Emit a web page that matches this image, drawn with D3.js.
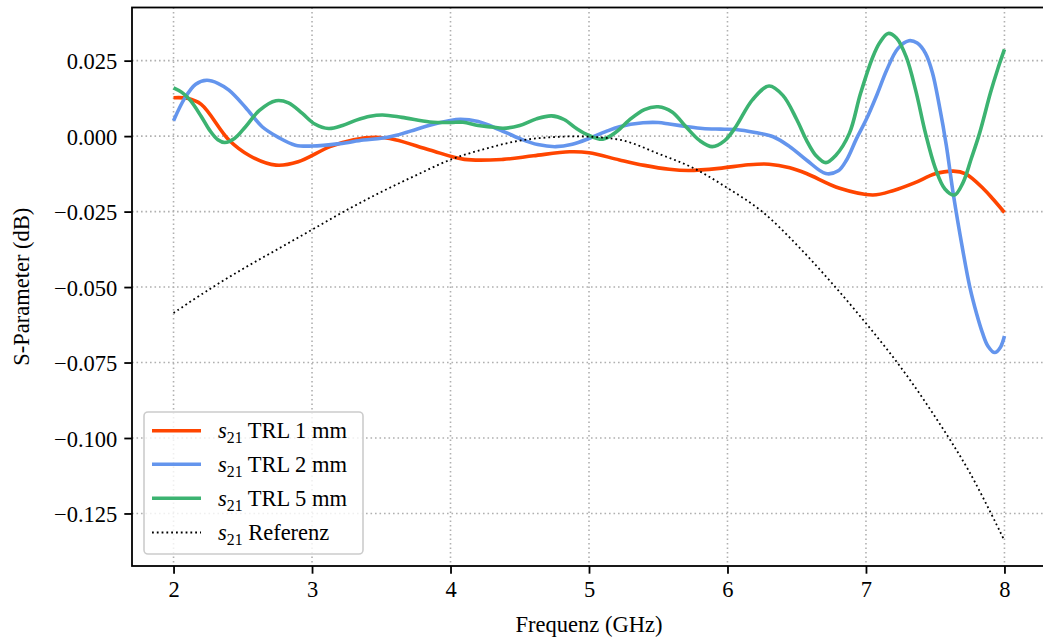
<!DOCTYPE html>
<html>
<head>
<meta charset="utf-8">
<script src="https://cdn.jsdelivr.net/npm/d3@7"></script>
<style>
  html, body { margin: 0; padding: 0; background: #fff; }
  svg { display: block; }
  text { font-family: "Liberation Serif", "Times New Roman", serif; fill: #000; }
</style>
</head>
<body>
<svg id="chart" width="1043" height="639"></svg>
<script>
// s21 TRL 1 mm
const trl1Freq = [2.0, 2.1, 2.2, 2.4, 2.55, 2.74, 2.9, 3.13, 3.3, 3.46, 3.6, 3.85, 4.1, 4.38, 4.6, 4.86, 5.0, 5.22, 5.4, 5.58, 5.72, 5.94, 6.15, 6.3, 6.45, 6.57, 6.81, 7.05, 7.2, 7.35, 7.5, 7.63, 7.72, 7.85, 7.92, 8.0];
const trl1Values = [0.0127, 0.0125, 0.0105, -0.0013, -0.0065, -0.0096, -0.0085, -0.0035, -0.0012, -0.0004, -0.0012, -0.0046, -0.0077, -0.0077, -0.0065, -0.0052, -0.0055, -0.0079, -0.0097, -0.0110, -0.0114, -0.0107, -0.0095, -0.0093, -0.0105, -0.0124, -0.0173, -0.0195, -0.0180, -0.0155, -0.0125, -0.0116, -0.0125, -0.0175, -0.0210, -0.0253];

// s21 TRL 2 mm
const trl2Freq = [2.0, 2.08, 2.16, 2.24, 2.32, 2.4, 2.52, 2.64, 2.76, 2.88, 3.0, 3.2, 3.37, 3.5, 3.61, 3.75, 3.85, 3.98, 4.07, 4.2, 4.35, 4.5, 4.63, 4.76, 4.88, 5.0, 5.12, 5.22, 5.39, 5.5, 5.58, 5.7, 5.82, 5.95, 6.06, 6.2, 6.33, 6.45, 6.57, 6.71, 6.8, 6.86, 6.93, 7.0, 7.08, 7.15, 7.23, 7.31, 7.37, 7.43, 7.48, 7.53, 7.58, 7.63, 7.7, 7.75, 7.8, 7.84, 7.88, 7.93, 7.97, 8.0];
const trl2Values = [0.0051, 0.0125, 0.0172, 0.0185, 0.0175, 0.0152, 0.0095, 0.0031, -0.0005, -0.0030, -0.0033, -0.0025, -0.0013, -0.0007, 0.0003, 0.0022, 0.0036, 0.0050, 0.0056, 0.0048, 0.0022, -0.0008, -0.0028, -0.0035, -0.0027, -0.0008, 0.0015, 0.0031, 0.0044, 0.0045, 0.0040, 0.0032, 0.0025, 0.0023, 0.0022, 0.0012, -0.0002, -0.0035, -0.0079, -0.0124, -0.0115, -0.0079, -0.0010, 0.0053, 0.0138, 0.0219, 0.0290, 0.0316, 0.0308, 0.0274, 0.0210, 0.0100, -0.0030, -0.0190, -0.0380, -0.0500, -0.0590, -0.0650, -0.0695, -0.0717, -0.0700, -0.0662];

// s21 TRL 5 mm
const trl5Freq = [2.0, 2.06, 2.12, 2.2, 2.26, 2.32, 2.37, 2.44, 2.52, 2.62, 2.74, 2.83, 2.93, 3.02, 3.12, 3.22, 3.32, 3.42, 3.51, 3.65, 3.85, 4.0, 4.09, 4.2, 4.3, 4.38, 4.5, 4.62, 4.73, 4.82, 4.91, 5.0, 5.1, 5.2, 5.29, 5.4, 5.5, 5.6, 5.7, 5.8, 5.89, 5.98, 6.06, 6.18, 6.3, 6.4, 6.5, 6.57, 6.64, 6.71, 6.78, 6.88, 6.96, 7.05, 7.1, 7.16, 7.22, 7.29, 7.36, 7.43, 7.5, 7.57, 7.64, 7.7, 7.76, 7.82, 7.9, 7.95, 8.0];
const trl5Values = [0.0160, 0.0145, 0.0119, 0.0065, 0.0020, -0.0012, -0.0021, -0.0008, 0.0031, 0.0085, 0.0117, 0.0110, 0.0075, 0.0040, 0.0025, 0.0035, 0.0053, 0.0066, 0.0070, 0.0062, 0.0047, 0.0045, 0.0046, 0.0035, 0.0030, 0.0026, 0.0035, 0.0057, 0.0067, 0.0055, 0.0025, 0.0002, -0.0010, 0.0015, 0.0053, 0.0088, 0.0097, 0.0080, 0.0031, -0.0015, -0.0035, -0.0015, 0.0031, 0.0120, 0.0166, 0.0135, 0.0055, -0.0013, -0.0065, -0.0088, -0.0065, 0.0009, 0.0140, 0.0263, 0.0310, 0.0340, 0.0325, 0.0263, 0.0150, 0.0009, -0.0105, -0.0175, -0.0195, -0.0155, -0.0075, 0.0009, 0.0145, 0.0220, 0.0287];

// s21 Referenz
const refFreq = [2.0, 2.25, 2.5, 2.75, 3.0, 3.25, 3.5, 3.75, 4.0, 4.25, 4.5, 4.75, 5.0, 5.25, 5.5, 5.75, 6.0, 6.25, 6.5, 6.75, 7.0, 7.25, 7.5, 7.75, 8.0];
const refValues = [-0.0586, -0.0510, -0.0440, -0.0375, -0.0310, -0.0245, -0.0185, -0.0130, -0.0078, -0.0042, -0.0015, -0.0003, -0.0002, -0.0015, -0.0058, -0.0105, -0.0172, -0.0250, -0.0360, -0.0485, -0.0620, -0.0765, -0.0930, -0.1115, -0.1340];

const xTicks = [2, 3, 4, 5, 6, 7, 8];
const yTicks = [-0.125, -0.100, -0.075, -0.050, -0.025, 0.000, 0.025];

const seriesNames = ["TRL 1 mm", "TRL 2 mm", "TRL 5 mm", "Referenz"];
const seriesColors = ["#ff4500", "#6495ed", "#3cb371", "#000000"];

const series = [
  { name: seriesNames[0], color: seriesColors[0], freq: trl1Freq, values: trl1Values, dotted: false },
  { name: seriesNames[1], color: seriesColors[1], freq: trl2Freq, values: trl2Values, dotted: false },
  { name: seriesNames[2], color: seriesColors[2], freq: trl5Freq, values: trl5Values, dotted: false },
  { name: seriesNames[3], color: seriesColors[3], freq: refFreq, values: refValues, dotted: true }
];

const svg = d3.select("#chart");
const plot = { left: 132, right: 1046, top: 7.5, bottom: 566 };
const fontSize = 22.5;

const x = d3.scaleLinear().domain([1.7, 8.3]).range([plot.left, plot.right]);
const y = d3.scaleLinear().domain([-0.1424, 0.0426]).range([plot.bottom, plot.top]);

svg.append("defs").append("clipPath").attr("id", "plotClip")
  .append("rect")
  .attr("x", plot.left).attr("y", plot.top)
  .attr("width", plot.right - plot.left).attr("height", plot.bottom - plot.top);

// grid
const grid = svg.append("g").attr("class", "grid");
grid.selectAll("line.gx").data(xTicks).join("line")
  .attr("x1", d => x(d)).attr("x2", d => x(d))
  .attr("y1", plot.top).attr("y2", plot.bottom)
  .attr("stroke", "#b0b0b0").attr("stroke-width", 1.6).attr("stroke-dasharray", "1.6 2.9");
grid.selectAll("line.gy").data(yTicks).join("line")
  .attr("y1", d => y(d)).attr("y2", d => y(d))
  .attr("x1", plot.left).attr("x2", plot.right)
  .attr("stroke", "#b0b0b0").attr("stroke-width", 1.6).attr("stroke-dasharray", "1.6 2.9");

// data lines
const line = d3.line()
  .x(d => x(d[0]))
  .y(d => y(d[1]))
  .curve(d3.curveCatmullRom.alpha(0.5));

const lines = svg.append("g").attr("clip-path", "url(#plotClip)");
series.forEach(s => {
  const pts = s.freq.map((f, i) => [f, s.values[i]]);
  lines.append("path")
    .datum(pts)
    .attr("d", line)
    .attr("fill", "none")
    .attr("stroke", s.color)
    .attr("stroke-width", s.dotted ? 1.8 : 3.6)
    .attr("stroke-dasharray", s.dotted ? "1.8 3" : null)
    .attr("stroke-linejoin", "round");
});

// axes
const xAxis = d3.axisBottom(x).tickValues(xTicks).tickFormat(d3.format("d"))
  .tickSizeOuter(0).tickSizeInner(7.7).tickPadding(6);
const yAxis = d3.axisLeft(y).tickValues(yTicks).tickFormat(d3.format(".3f"))
  .tickSizeOuter(0).tickSizeInner(7.7).tickPadding(7);

const gx = svg.append("g").attr("transform", `translate(0,${plot.bottom})`).call(xAxis);
const gy = svg.append("g").attr("transform", `translate(${plot.left},0)`).call(yAxis);
[gx, gy].forEach(g => {
  g.select(".domain").remove();
  g.selectAll(".tick line").attr("stroke", "#000").attr("stroke-width", 1.8);
  g.selectAll(".tick text")
    .style("font-family", '"Liberation Serif", "Times New Roman", serif')
    .style("font-size", fontSize + "px")
    .attr("fill", "#000");
});
gx.selectAll(".tick text").attr("dy", "0.76em");
gy.selectAll(".tick text").attr("dy", "0.36em");

// frame
svg.append("rect")
  .attr("x", plot.left).attr("y", plot.top)
  .attr("width", plot.right - plot.left).attr("height", plot.bottom - plot.top)
  .attr("fill", "none").attr("stroke", "#000").attr("stroke-width", 1.8);

// axis titles
svg.append("text")
  .attr("x", 589)
  .attr("y", 632)
  .attr("text-anchor", "middle")
  .style("font-size", fontSize + "px")
  .text("Frequenz (GHz)");
svg.append("text")
  .attr("transform", `translate(29,${(plot.top + plot.bottom) / 2}) rotate(-90)`)
  .attr("text-anchor", "middle")
  .style("font-size", fontSize + "px")
  .text("S-Parameter (dB)");

// legend
const legend = svg.append("g");
legend.append("rect")
  .attr("x", 144).attr("y", 412)
  .attr("width", 219).attr("height", 142)
  .attr("rx", 4).attr("ry", 4)
  .attr("fill", "#fff").attr("fill-opacity", 0.8)
  .attr("stroke", "#cccccc").attr("stroke-width", 1.6);

const rowY = [430.7, 464.3, 498.3, 532.5];
series.forEach((s, i) => {
  const ly = rowY[i];
  legend.append("line")
    .attr("x1", 152).attr("x2", 201)
    .attr("y1", ly).attr("y2", ly)
    .attr("stroke", s.color)
    .attr("stroke-width", s.dotted ? 1.8 : 3.6)
    .attr("stroke-dasharray", s.dotted ? "1.8 3" : null);
  const t = legend.append("text")
    .attr("x", 218).attr("y", ly + 7.5)
    .style("font-size", fontSize + "px");
  t.append("tspan").style("font-style", "italic").text("s");
  t.append("tspan").attr("dy", 5).style("font-size", (fontSize * 0.7) + "px").text("21");
  t.append("tspan").attr("dy", -5).text(" " + s.name);
});
</script>
</body>
</html>
